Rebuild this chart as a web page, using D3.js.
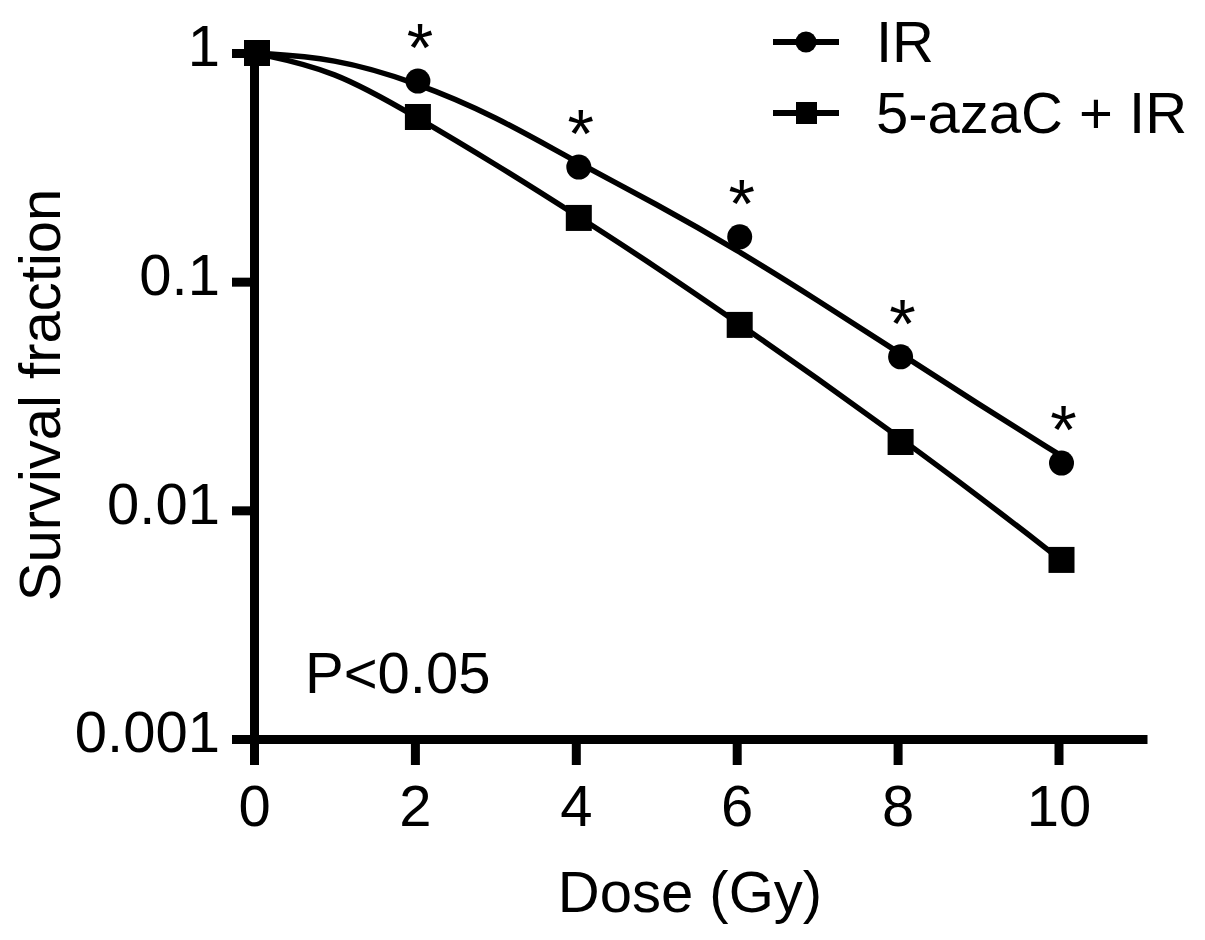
<!DOCTYPE html>
<html>
<head>
<meta charset="utf-8">
<script src="https://cdn.jsdelivr.net/npm/d3@7"></script>
<style>
  body { margin: 0; background: #fff; }
  svg { display: block; }
  text { font-family: "Liberation Sans", Arial, sans-serif; fill: #000; }
</style>
</head>
<body>
<div id="chart"></div>
<script>
// measured points (dose in Gy, surviving fraction)
const doses = [0, 2, 4, 6, 8, 10];
const irSurvival = [1, 0.754, 0.317, 0.157, 0.0469, 0.0161];
const azaSurvival = [1, 0.525, 0.190, 0.0647, 0.0199, 0.00607];

// fitted curves, one reading per Gy
const fitDoses = [0, 1, 2, 3, 4, 5, 6, 7, 8, 9, 10];
const irFit = [1, 0.951, 0.747, 0.530, 0.334, 0.219, 0.138, 0.0832, 0.0493, 0.0292, 0.0176];
const azaFit = [1, 0.843, 0.530, 0.327, 0.196, 0.116, 0.0666, 0.0379, 0.0211, 0.0116, 0.00619];

const sigDoses = [2, 4, 6, 8, 10];
const seriesNames = ["IR", "5-azaC + IR"];

const xTicks = [0, 2, 4, 6, 8, 10];
const yTicks = [1, 0.1, 0.01, 0.001];
const yTickLabels = ["1", "0.1", "0.01", "0.001"];

const width = 1205, height = 940;
const fs = 58;

const svg = d3.select("#chart")
    .append("svg")
    .attr("width", width)
    .attr("height", height);

const x = d3.scaleLinear()
    .domain([0, 11.1])
    .range([254, 1147]);

const y = d3.scaleLog()
    .domain([0.001, 1])
    .range([739, 53]);

// axes
const xAxis = svg.append("g")
    .attr("transform", `translate(0,${y(0.001)})`)
    .call(d3.axisBottom(x)
        .tickValues(xTicks)
        .tickSize(26)
        .tickSizeOuter(0)
        .tickPadding(20)
        .tickFormat(d3.format("d")));

const yAxis = svg.append("g")
    .attr("transform", `translate(${x(0)},0)`)
    .call(d3.axisLeft(y)
        .tickValues(yTicks)
        .tickSize(22)
        .tickSizeOuter(0)
        .tickPadding(12)
        .tickFormat((d, i) => yTickLabels[i]));

[xAxis, yAxis].forEach(g => {
    g.select(".domain").attr("stroke", "#000").attr("stroke-width", 9);
    g.selectAll(".tick line").attr("stroke", "#000").attr("stroke-width", 9);
    g.selectAll(".tick text")
        .style("font-family", "'Liberation Sans', Arial, sans-serif")
        .style("font-size", fs + "px")
        .attr("fill", "#000");
});
yAxis.selectAll(".tick text").attr("dy", "0.22em");

// fitted curves
const line = d3.line()
    .x(d => x(d[0]))
    .y(d => y(d[1]))
    .curve(d3.curveBasis);

[irFit, azaFit].forEach(vals => {
    svg.append("path")
        .datum(fitDoses.map((d, i) => [d, vals[i]]))
        .attr("fill", "none")
        .attr("stroke", "#000")
        .attr("stroke-width", 5.5)
        .attr("d", line);
});

// markers
svg.selectAll("circle.ir")
    .data(doses.map((d, i) => [d, irSurvival[i]]))
    .enter()
    .append("circle")
    .attr("class", "ir")
    .attr("cx", d => x(d[0]) + 3)
    .attr("cy", d => y(d[1]))
    .attr("r", 12.5)
    .attr("fill", "#000");

svg.selectAll("rect.aza")
    .data(doses.map((d, i) => [d, azaSurvival[i]]))
    .enter()
    .append("rect")
    .attr("class", "aza")
    .attr("x", d => x(d[0]) + 3 - 13)
    .attr("y", d => y(d[1]) - 13)
    .attr("width", 26)
    .attr("height", 26)
    .attr("fill", "#000");

// significance stars above IR points
svg.selectAll("text.star")
    .data(sigDoses)
    .enter()
    .append("text")
    .attr("class", "star")
    .attr("text-anchor", "middle")
    .attr("x", d => x(d) + 5)
    .attr("y", d => y(irSurvival[doses.indexOf(d)]) - 10)
    .style("font-size", "68px")
    .text("*");

// legend
const legend = svg.append("g");
const legendRows = [
    { name: seriesNames[0], cy: 42, shape: "circle" },
    { name: seriesNames[1], cy: 113, shape: "square" }
];
legendRows.forEach(r => {
    legend.append("line")
        .attr("x1", 773).attr("x2", 839)
        .attr("y1", r.cy).attr("y2", r.cy)
        .attr("stroke", "#000").attr("stroke-width", 6);
    if (r.shape === "circle") {
        legend.append("circle").attr("cx", 806).attr("cy", r.cy).attr("r", 10.5).attr("fill", "#000");
    } else {
        legend.append("rect").attr("x", 796).attr("y", r.cy - 11).attr("width", 21).attr("height", 22).attr("fill", "#000");
    }
    legend.append("text")
        .attr("x", 876)
        .attr("y", r.cy + 20)
        .style("font-size", fs + "px")
        .text(r.name);
});

// annotation
svg.append("text")
    .attr("x", 305)
    .attr("y", 693)
    .style("font-size", fs + "px")
    .text("P<0.05");

// axis titles
svg.append("text")
    .attr("text-anchor", "middle")
    .attr("x", 690)
    .attr("y", 912)
    .style("font-size", fs + "px")
    .text("Dose (Gy)");

svg.append("text")
    .attr("text-anchor", "middle")
    .attr("transform", "translate(60,395) rotate(-90)")
    .style("font-size", fs + "px")
    .text("Survival fraction");
</script>
</body>
</html>
